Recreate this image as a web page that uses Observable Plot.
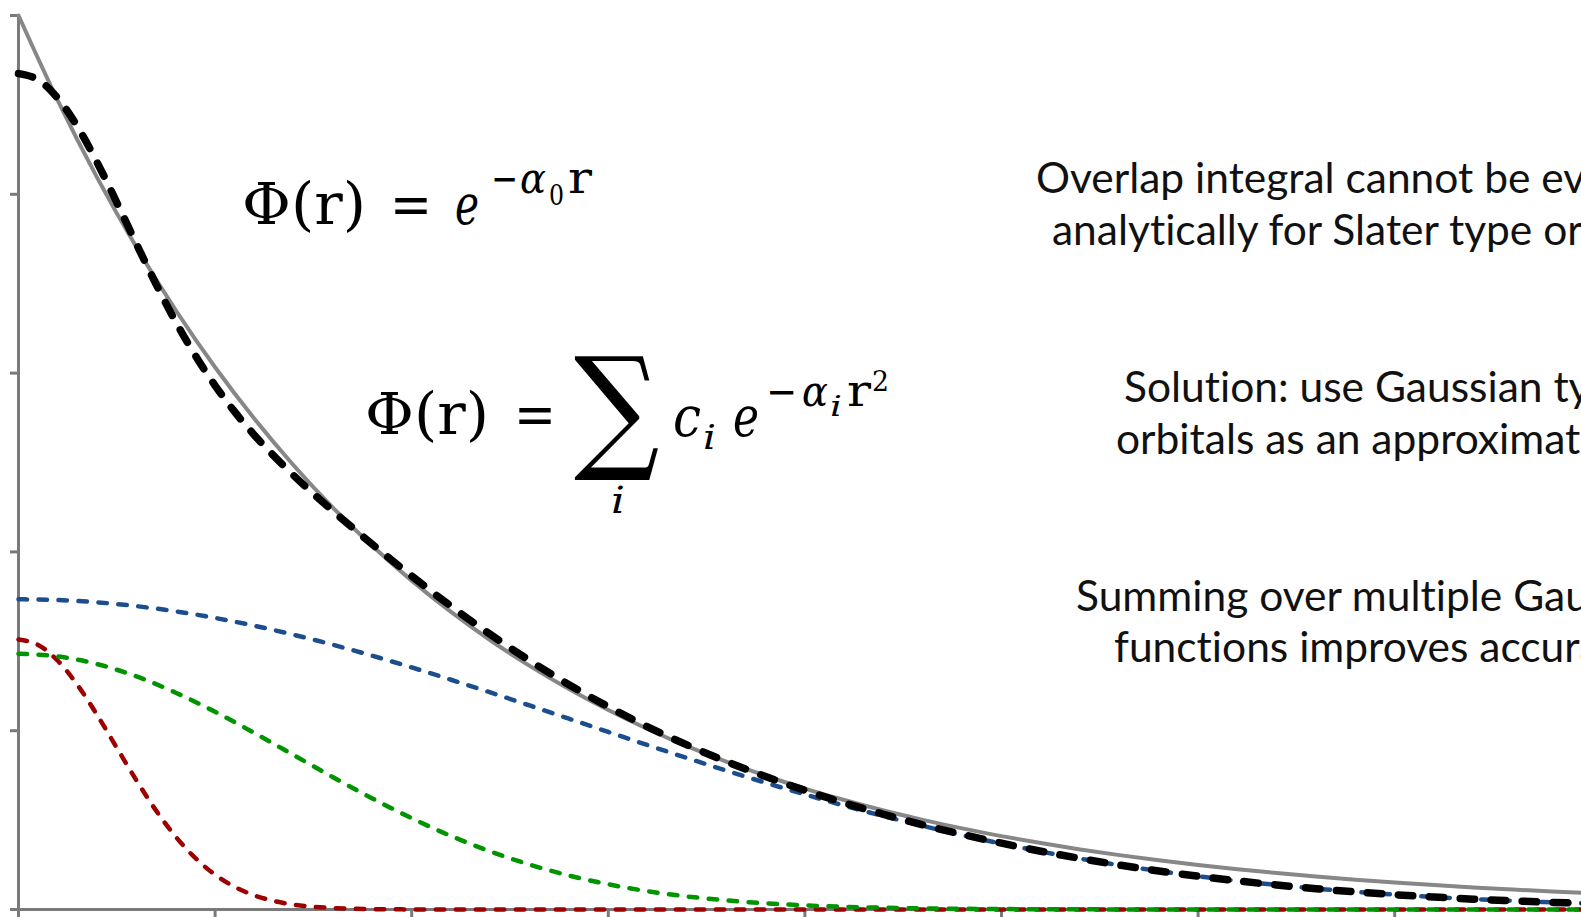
<!DOCTYPE html>
<html>
<head>
<meta charset="utf-8">
<script src="https://cdn.jsdelivr.net/npm/d3@7"></script>
<script src="https://cdn.jsdelivr.net/npm/@observablehq/plot@0.6"></script>
<style>
  html, body { margin: 0; padding: 0; background: #fff; overflow: hidden; }
  #chart { position: relative; width: 1581px; height: 917px; overflow: hidden; }
  #chart svg { overflow: hidden; }
  .note { font-variant-ligatures: none; font-feature-settings: "liga" 0, "clig" 0; }
</style>
</head>
<body>
<div id="chart"></div>
<script>
// radial distance r (coarse grid) for the smooth curves
const rCoarse = [0, 0.1, 0.2, 0.3, 0.4, 0.5, 0.6, 0.7, 0.8, 0.9, 1.0,
  1.1, 1.2, 1.3, 1.4, 1.5, 1.6, 1.7, 1.8, 1.9, 2.0,
  2.1, 2.2, 2.3, 2.4, 2.5, 2.6, 2.7, 2.8, 2.9, 3.0,
  3.1, 3.2, 3.3, 3.4, 3.5, 3.6, 3.7, 3.8, 3.9, 4.0];

// finer grid near the nucleus for the narrow Gaussian and the contracted sum
const rFine = [0, 0.05, 0.1, 0.15, 0.2, 0.25, 0.3, 0.35, 0.4, 0.45, 0.5,
  0.55, 0.6, 0.65, 0.7, 0.75, 0.8, 0.85, 0.9, 0.95, 1.0,
  1.1, 1.2, 1.3, 1.4, 1.5, 1.6, 1.7, 1.8, 1.9, 2.0,
  2.1, 2.2, 2.3, 2.4, 2.5, 2.6, 2.7, 2.8, 2.9, 3.0,
  3.1, 3.2, 3.3, 3.4, 3.5, 3.6, 3.7, 3.8, 3.9, 4.0];

// Slater type orbital (solid grey)
const slater = [1.000, 0.9048, 0.8187, 0.7408, 0.6703, 0.6065, 0.5488, 0.4966, 0.4493, 0.4066, 0.3679,
  0.3329, 0.3012, 0.2725, 0.2466, 0.2231, 0.2019, 0.1827, 0.1653, 0.1496, 0.1353,
  0.1225, 0.1108, 0.1003, 0.0907, 0.0821, 0.0743, 0.0672, 0.0608, 0.0550, 0.0498,
  0.0450, 0.0408, 0.0369, 0.0334, 0.0302, 0.0273, 0.0247, 0.0224, 0.0202, 0.0183];

// diffuse Gaussian (blue)
const gaussDiffuse = [0.3470, 0.3461, 0.3436, 0.3393, 0.3335, 0.3261, 0.3174, 0.3073, 0.2961, 0.2838, 0.2708,
  0.2570, 0.2428, 0.2282, 0.2134, 0.1986, 0.1839, 0.1695, 0.1554, 0.1418, 0.1287,
  0.1162, 0.1045, 0.0935, 0.0832, 0.0737, 0.0649, 0.0569, 0.0496, 0.0431, 0.0372,
  0.0320, 0.0274, 0.0233, 0.0197, 0.0166, 0.0139, 0.0116, 0.0097, 0.0080, 0.0066];

// intermediate Gaussian (green)
const gaussMiddle = [0.2860, 0.2831, 0.2745, 0.2607, 0.2425, 0.2211, 0.1974, 0.1727, 0.1479, 0.1242, 0.1021,
  0.0822, 0.0649, 0.0502, 0.0380, 0.0282, 0.0205, 0.0146, 0.0102, 0.0069, 0.0046,
  0.0030, 0.0020, 0.0012, 0.0008, 0.0005, 0.0003, 0.0002, 0.0001, 0, 0,
  0, 0, 0, 0, 0, 0, 0, 0, 0, 0];

// tight Gaussian (red), on the fine grid
const gaussTight = [0.3020, 0.2959, 0.2782, 0.2511, 0.2175, 0.1809, 0.1444, 0.1106, 0.0813, 0.0574, 0.0389,
  0.0253, 0.0158, 0.0095, 0.0054, 0.0030, 0.0016, 0.0008, 0.0004, 0.0002, 0.0001,
  0, 0, 0, 0, 0, 0, 0, 0, 0, 0,
  0, 0, 0, 0, 0, 0, 0, 0, 0, 0,
  0, 0, 0, 0, 0, 0, 0, 0, 0, 0];

// contracted sum of the three Gaussians (black dashed), on the fine grid
const contracted = [0.9350, 0.9280, 0.9074, 0.8756, 0.8356, 0.7908, 0.7444, 0.6993, 0.6573, 0.6195, 0.5861,
  0.5566, 0.5306, 0.5071, 0.4854, 0.4650, 0.4456, 0.4268, 0.4084, 0.3905, 0.3730,
  0.3392, 0.3077, 0.2784, 0.2514, 0.2268, 0.2044, 0.1841, 0.1656, 0.1487, 0.1333,
  0.1192, 0.1065, 0.0947, 0.0840, 0.0742, 0.0652, 0.0571, 0.0497, 0.0431, 0.0372,
  0.0320, 0.0274, 0.0233, 0.0197, 0.0166, 0.0139, 0.0116, 0.0097, 0.0080, 0.0066];

// tick positions (unlabelled)
const xTicks = [0, 0.5, 1, 1.5, 2, 2.5, 3, 3.5];
const yTicks = [0, 0.2, 0.4, 0.6, 0.8, 1];

const rows = (xs, ys) => xs.map((r, i) => ({r, v: ys[i]}));

const axisColor = "#7a7a7a";
const gaussStyle = {strokeWidth: 4.5, strokeLinecap: "round", strokeDasharray: "8.5,11.5", curve: "monotone-x"};

const chart = Plot.plot({
  width: 1581,
  height: 917,
  marginTop: 15,
  marginBottom: 8,
  marginLeft: 18,
  marginRight: 0,
  style: {background: "#fff", overflow: "hidden"},
  x: {domain: [0, 4], range: [18, 1590.8]},
  y: {domain: [0, 1], range: [909, 15]},
  marks: [
    Plot.ruleX([0], {stroke: axisColor, strokeWidth: 3}),
    Plot.ruleY([0], {stroke: axisColor, strokeWidth: 3}),
    Plot.axisX(xTicks, {tickSize: 8, tickFormat: () => "", label: null, stroke: axisColor, strokeWidth: 3}),
    Plot.axisY(yTicks, {tickSize: 8, tickFormat: () => "", label: null, stroke: axisColor, strokeWidth: 3}),
    Plot.line(rows(rCoarse, slater), {x: "r", y: "v", stroke: "#878787", strokeWidth: 4, curve: "monotone-x"}),
    Plot.line(rows(rFine, gaussTight), {x: "r", y: "v", stroke: "#9c0000", ...gaussStyle}),
    Plot.line(rows(rCoarse, gaussMiddle), {x: "r", y: "v", stroke: "#009400", ...gaussStyle}),
    Plot.line(rows(rCoarse, gaussDiffuse), {x: "r", y: "v", stroke: "#1c4e8e", ...gaussStyle}),
    Plot.line(rows(rFine, contracted), {x: "r", y: "v", stroke: "#000", strokeWidth: 7.5, strokeLinecap: "round", strokeDasharray: "14.5,16.5", curve: "monotone-x"})
  ]
});

document.getElementById("chart").appendChild(chart);

// ---- formulas and notes drawn on top of the plot ----
const svg = d3.select(chart);
const math = svg.append("g")
  .attr("fill", "#000")
  .attr("text-anchor", "start")
  .attr("font-family", "'DejaVu Serif', 'Liberation Serif', serif");

function put(g, x, y, s, size, opts = {}) {
  const t = g.append("text")
    .attr("x", x).attr("y", y)
    .attr("font-size", size)
    .text(s);
  if (opts.italic) t.attr("font-style", "italic");
  if (opts.len) t.attr("textLength", opts.len).attr("lengthAdjust", "spacingAndGlyphs");
  if (opts.transform) t.attr("transform", opts.transform);
  return t;
}

// Φ(r) = e^(−α0 r)
put(math, 242, 224, "Φ(r)", 58, {len: 124});
put(math, 390, 224, "=", 58, {len: 42});
put(math, 455, 224, "e", 56, {italic: true, len: 24});
put(math, 491, 193, "−", 42, {len: 27});
put(math, 520, 193, "α", 42, {italic: true, len: 26});
put(math, 549, 205, "0", 27, {len: 15});
put(math, 568, 193, "r", 44, {len: 24});

// Φ(r) = Σ_i c_i e^(−α_i r²)
put(math, 365, 434, "Φ(r)", 58, {len: 124});
put(math, 514, 434, "=", 58, {len: 42});
put(math, 0, 0, "∑", 136, {transform: "translate(574,454) scale(0.88,1)"});
put(math, 611, 513, "i", 38, {italic: true, len: 14});
put(math, 673, 436, "c", 56, {italic: true, len: 28});
put(math, 703, 449, "i", 34, {italic: true, len: 13});
put(math, 733, 436, "e", 56, {italic: true, len: 26});
put(math, 766, 406, "−", 42, {len: 31});
put(math, 802, 406, "α", 42, {italic: true, len: 26});
put(math, 830, 416, "i", 27, {italic: true, len: 12});
put(math, 847, 406, "r", 44, {len: 24});
put(math, 872, 391, "2", 27, {len: 17});

// explanatory notes on the right
const notes = svg.append("g")
  .attr("fill", "#111")
  .attr("text-anchor", "start")
  .attr("font-family", "Lato, 'Open Sans', sans-serif")
  .attr("font-size", 42.5);
const noteLines = [
  [1036, 193, "Overlap integral cannot be evaluated"],
  [1052, 245, "analytically for Slater type orbitals"],
  [1124, 402, "Solution: use Gaussian type"],
  [1116, 454, "orbitals as an approximation"],
  [1076, 611, "Summing over multiple Gaussian"],
  [1114, 662, "functions improves accuracy"]
];
for (const [x, y, s] of noteLines) notes.append("text").attr("class", "note").attr("x", x).attr("y", y).text(s);
</script>
</body>
</html>
